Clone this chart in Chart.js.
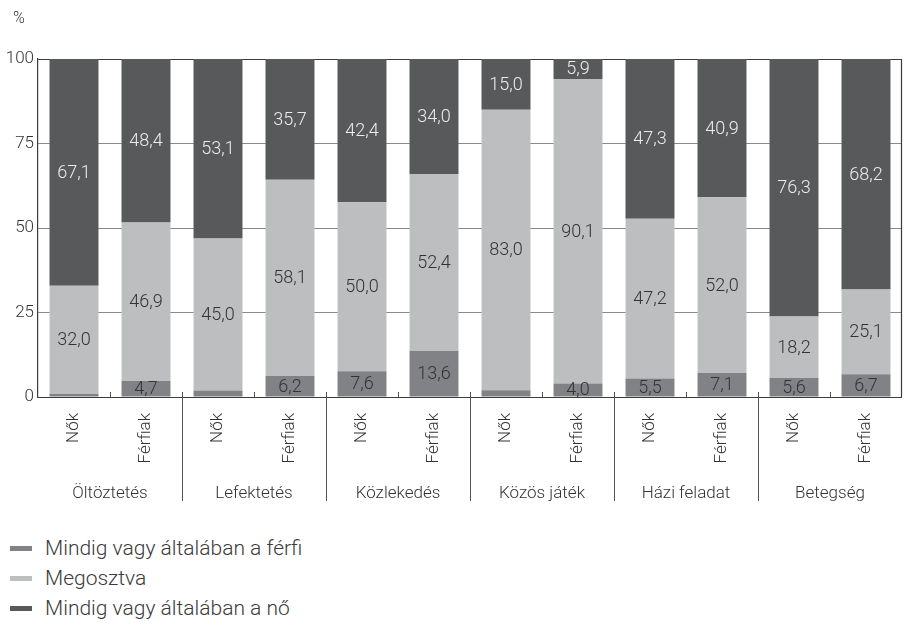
<!DOCTYPE html>
<html><head><meta charset="utf-8">
<script src="https://cdn.jsdelivr.net/npm/chart.js@4/dist/chart.umd.min.js"></script>
<style>
html,body{margin:0;padding:0;background:#fff;}
body{width:907px;height:638px;position:relative;overflow:hidden;font-family:Roboto, "Open Sans", sans-serif;font-weight:300;}
#wrap{position:absolute;left:0;top:0;width:907px;height:515px;}
#legend{position:absolute;left:0;top:533px;}
.item{display:flex;align-items:center;height:30px;font-size:21px;color:#3a3a3a;white-space:nowrap;}
.mk{width:22px;height:5px;margin-left:10px;margin-right:13px;}
</style></head><body>
<div id="wrap"><canvas id="c"></canvas></div>
<div id="legend"></div>
<script>
// ---- data ----
const groups = ['Öltöztetés','Lefektetés','Közlekedés','Közös játék','Házi feladat','Betegség'];
const subLabels = ['Nők','Férfiak'];
const seriesNames = ['Mindig vagy általában a férfi','Megosztva','Mindig vagy általában a nő'];
const ferfi     = [0.9, 4.7, 1.9, 6.2, 7.6, 13.6, 2.0, 4.0, 5.5, 7.1, 5.6, 6.7];
const megosztva = [32.0,46.9,45.0,58.1,50.0,52.4,83.0,90.1,47.2,52.0,18.2,25.1];
const no        = [67.1,48.4,53.1,35.7,42.4,34.0,15.0,5.9,47.3,40.9,76.3,68.2];
const yTicks = [0,25,50,75,100];
const yUnit = '%';

// ---- styles ----
const colors = ['#808285','#bcbec0','#58595b'];
const textColors = ['#333333','#333333','#ececec'];
const FONT = 'Roboto, "Open Sans", sans-serif';

const categories = [];
groups.forEach(()=>subLabels.forEach(s=>categories.push(s)));
const seriesData = [ferfi, megosztva, no];

const decor = {
  id:'decor',
  afterDatasetsDraw(chart){
    const ctx = chart.ctx, ca = chart.chartArea;
    ctx.save();
    // value labels
    ctx.font = '300 18px ' + FONT;
    ctx.textAlign = 'center'; ctx.textBaseline = 'middle';
    chart.data.datasets.forEach((ds, di) => {
      const meta = chart.getDatasetMeta(di);
      meta.data.forEach((bar, i) => {
        const v = ds.data[i];
        if (v < 3) return;
        ctx.fillStyle = textColors[di];
        ctx.fillText(v.toFixed(1).replace('.', ','), bar.x, (bar.y + bar.base)/2 + 1);
      });
    });
    // axis lines
    ctx.strokeStyle = '#3c3c3c'; ctx.lineWidth = 1.2;
    ctx.beginPath();
    ctx.moveTo(ca.left, ca.bottom + 0.5); ctx.lineTo(ca.right, ca.bottom + 0.5);
    ctx.moveTo(ca.right - 0.5, ca.top); ctx.lineTo(ca.right - 0.5, ca.bottom);
    ctx.stroke();
    // ticks and separators
    ctx.strokeStyle = '#555'; ctx.lineWidth = 1;
    const n = categories.length, step = (ca.right - ca.left) / n;
    ctx.beginPath();
    for (let k = 1; k < n; k++) {
      const x = Math.round(ca.left + step * k) + 0.5;
      if (k % subLabels.length === 0) { ctx.moveTo(x, ca.bottom - 5); ctx.lineTo(x, ca.bottom + 104); }
      else { ctx.moveTo(x, ca.bottom - 5); ctx.lineTo(x, ca.bottom); }
    }
    ctx.stroke();
    // group labels
    ctx.fillStyle = '#333'; ctx.font = '300 17px ' + FONT;
    groups.forEach((g, gi) => {
      const x = ca.left + step * (gi * subLabels.length + subLabels.length / 2);
      ctx.fillText(g, x, ca.bottom + 97);
    });
    // unit
    ctx.font = '300 16px ' + FONT;
    ctx.fillText(yUnit, 19, 19);
    ctx.restore();
  }
};

new Chart(document.getElementById('c'), {
  type: 'bar',
  data: {
    labels: categories,
    datasets: seriesData.map((d, i) => ({
      label: seriesNames[i], data: d, backgroundColor: colors[i], borderWidth: 0,
      barPercentage: 0.68, categoryPercentage: 1
    }))
  },
  options: {
    responsive: true, maintainAspectRatio: false, animation: false,
    layout: { padding: { top: 59, right: 5, left: 0, bottom: 0 } },
    plugins: { legend: { display: false }, tooltip: { enabled: false } },
    scales: {
      x: {
        stacked: true,
        grid: { display: false },
        border: { display: false },
        ticks: { minRotation: 90, maxRotation: 90, padding: 8, color: '#333', font: { family: FONT, size: 17, weight: 300 }, autoSkip: false },
        afterFit(s) { s.height = 118; }
      },
      y: {
        stacked: true, min: 0, max: 100,
        afterBuildTicks(s) { s.ticks = yTicks.map(v => ({ value: v })); },
        grid: { color: c => c.tick && c.tick.value === 100 ? '#3c3c3c' : '#8a8a8a', lineWidth: 1, drawTicks: false },
        border: { display: true, color: '#3c3c3c', width: 1.2 },
        ticks: { padding: 4, color: '#333', font: { family: FONT, size: 17, weight: 300 } },
        afterFit(s) { s.width = 38; }
      }
    }
  },
  plugins: [decor]
});

// HTML legend
const lg = document.getElementById('legend');
seriesNames.forEach((name, i) => {
  const d = document.createElement('div'); d.className = 'item';
  const m = document.createElement('span'); m.className = 'mk'; m.style.background = colors[i];
  const t = document.createElement('span'); t.textContent = name;
  d.appendChild(m); d.appendChild(t); lg.appendChild(d);
});
</script>
</body></html>
